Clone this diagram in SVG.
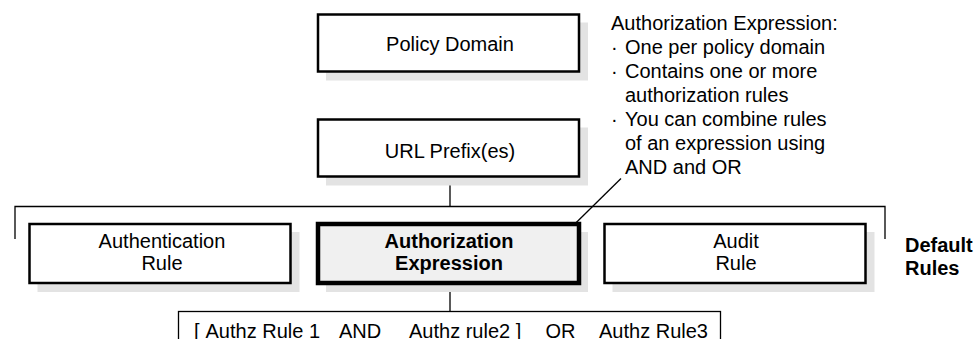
<svg xmlns="http://www.w3.org/2000/svg" width="978" height="339" viewBox="0 0 978 339">
  <style>
    .shadow { fill: #e3e3e3; stroke: none; }
    .box { fill: #ffffff; stroke: #000000; stroke-width: 2.5; }
    .box-main { fill: #f0f0f0; stroke: #000000; stroke-width: 4.5; }
    .box-thin { fill: #ffffff; stroke: #000000; stroke-width: 1.3; }
    .line { fill: none; stroke: #000000; stroke-width: 1.3; }
    text { font-family: "Liberation Sans", Arial, sans-serif; font-size: 20px; fill: #000000; }
    .c { text-anchor: middle; }
    .b { font-weight: bold; }
  </style>

  <!-- connectors -->
  <g id="connectors">
    <line class="line" x1="450" y1="177" x2="450" y2="206.5"/>
    <polyline class="line" points="15,239 15,206.5 885,206.5 885,239"/>
    <line class="line" x1="450" y1="285" x2="450" y2="311.5"/>
    <line class="line" x1="559" y1="239.5" x2="621" y2="178.5"/>
  </g>

  <g id="policy-domain">
    <rect class="shadow" x="326" y="22.5" width="262" height="58"/>
    <rect class="box" x="318" y="14.5" width="261" height="57"/>
    <text class="c" x="450" y="50.5">Policy Domain</text>
  </g>

  <g id="url-prefix">
    <rect class="shadow" x="326" y="127.5" width="262" height="58"/>
    <rect class="box" x="318" y="119.5" width="261" height="57"/>
    <text class="c" x="450" y="157.5">URL Prefix(es)</text>
  </g>

  <g id="authentication-rule">
    <rect class="shadow" x="37.5" y="232" width="262" height="60"/>
    <rect class="box" x="29.5" y="224" width="261" height="59"/>
    <text class="c" x="162" y="248">Authentication</text>
    <text class="c" x="162" y="270">Rule</text>
  </g>

  <g id="authorization-expression">
    <rect class="shadow" x="326" y="232" width="262" height="60"/>
    <rect class="box-main" x="318" y="224" width="261" height="59"/>
    <text class="c b" x="449" y="248">Authorization</text>
    <text class="c b" x="449" y="270">Expression</text>
  </g>

  <g id="audit-rule">
    <rect class="shadow" x="612.5" y="232" width="262" height="60"/>
    <rect class="box" x="604.5" y="224" width="261" height="59"/>
    <text class="c" x="736" y="248">Audit</text>
    <text class="c" x="736" y="270">Rule</text>
  </g>

  <g id="default-rules">
    <text class="b" x="905" y="252">Default</text>
    <text class="b" x="905" y="275">Rules</text>
  </g>

  <g id="authz-note">
    <text x="611" y="30">Authorization Expression:</text>
    <text x="611" y="54">·</text><text x="625" y="54">One per policy domain</text>
    <text x="611" y="78">·</text><text x="625" y="78">Contains one or more</text>
    <text x="625" y="102">authorization rules</text>
    <text x="611" y="126">·</text><text x="625" y="126">You can combine rules</text>
    <text x="625" y="150">of an expression using</text>
    <text x="625" y="174">AND and OR</text>
  </g>

  <g id="rule-combination">
    <rect class="box-thin" x="178.5" y="311.5" width="542" height="40"/>
    <text x="194" y="337.5">[</text>
    <text x="205.5" y="337.5">Authz Rule 1</text>
    <text x="339" y="337.5">AND</text>
    <text x="409" y="337.5">Authz rule2 ]</text>
    <text x="545.5" y="337.5">OR</text>
    <text x="599" y="337.5">Authz Rule3</text>
  </g>
</svg>
